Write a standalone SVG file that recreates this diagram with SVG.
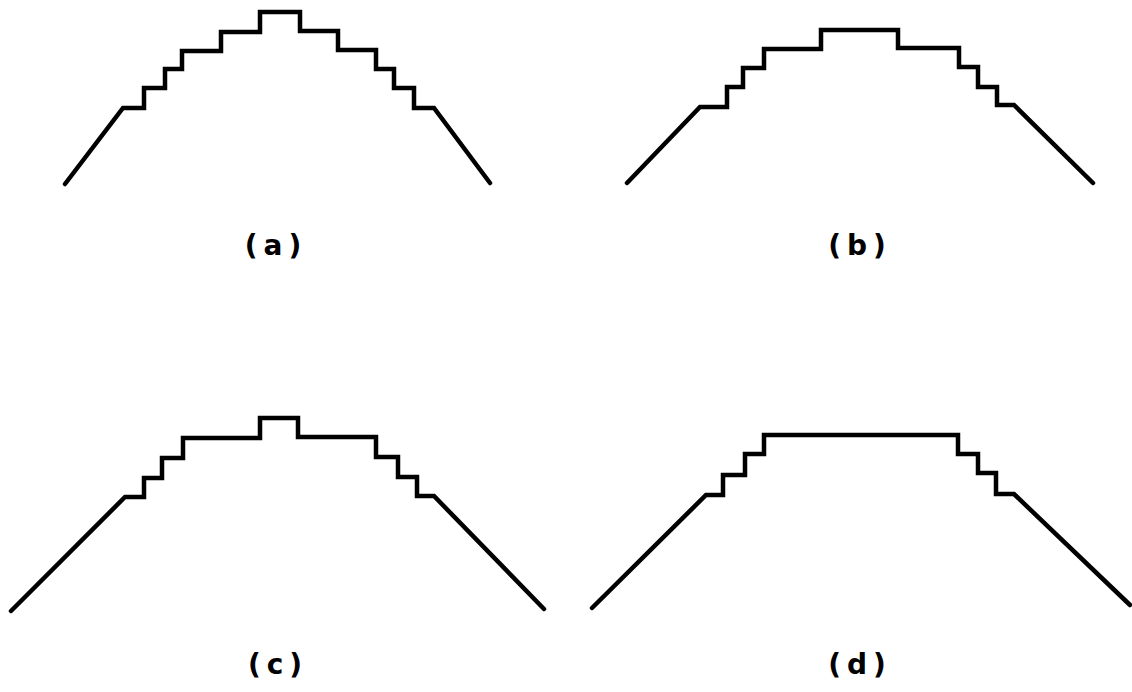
<svg xmlns="http://www.w3.org/2000/svg" width="1132" height="692" viewBox="0 0 1132 692">
<style>
.prof{fill:none;stroke:#000;stroke-width:4.5;stroke-linejoin:miter;stroke-linecap:round}
.lbl{font-family:"DejaVu Sans","Liberation Sans",sans-serif;font-size:28px;font-weight:bold;fill:#000;text-anchor:middle;letter-spacing:6px}
</style>
<rect width="1132" height="692" fill="#fff"/>
<g id="panel-a">
<path class="prof" d="M65,184 L123,108 H144 V88 H165 V69 H182 V51 H221 V32 H260 V12 H300 V31 H338 V50 H376 V69 H394 V88 H414 V108 H434 L490,183"/>
<text class="lbl" x="276" y="255">(a)</text>
</g>
<g id="panel-b">
<path class="prof" d="M627,183 L700,107 H727 V87 H743 V68 H764 V49 H821 V30 H898 V48 H959 V67 H978 V87 H997 V105 H1014 L1093,183"/>
<text class="lbl" x="860" y="255">(b)</text>
</g>
<g id="panel-c">
<path class="prof" d="M11,611 L125,497 H144 V478 H162 V458 H183 V438 H260 V418 H298 V437 H376 V457 H398 V477 H417 V496 H434 L544,609"/>
<text class="lbl" x="278" y="674">(c)</text>
</g>
<g id="panel-d">
<path class="prof" d="M592,608 L706,495 H723 V475 H745 V454 H764 V435 H958 V454 H978 V473 H996 V494 H1014 L1130,605"/>
<text class="lbl" x="860" y="674">(d)</text>
</g>
</svg>
